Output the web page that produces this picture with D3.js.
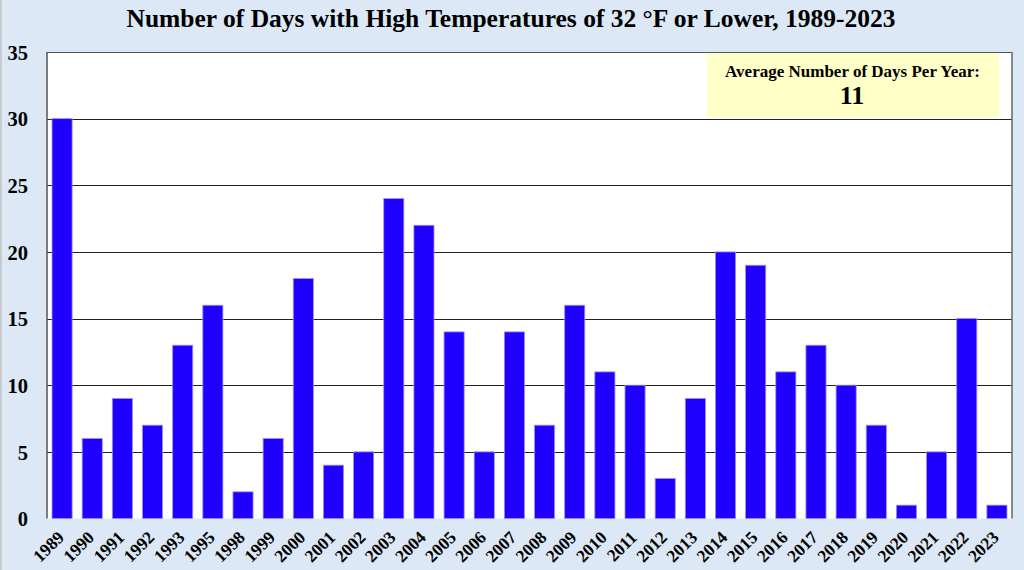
<!DOCTYPE html>
<html>
<head>
<meta charset="utf-8">
<script src="https://cdn.jsdelivr.net/npm/d3@7"></script>
<style>
  html, body { margin: 0; padding: 0; background: #dce8f5; }
  svg { display: block; }
  text { font-family: "Liberation Serif", "Times New Roman", serif; font-weight: bold; fill: #000; }
</style>
</head>
<body>
<svg id="chart" width="1024" height="570"></svg>
<script>
const years = ["1989","1990","1991","1992","1993","1995","1998","1999","2000","2001","2002","2003","2004","2005","2006","2007","2008","2009","2010","2011","2012","2013","2014","2015","2016","2017","2018","2019","2020","2021","2022","2023"];
const days = [30,6,9,7,13,16,2,6,18,4,5,24,22,14,5,14,7,16,11,10,3,9,20,19,11,13,10,7,1,5,15,1];
const yTicks = [0,5,10,15,20,25,30,35];
const title = "Number of Days with High Temperatures of 32 \u00B0F or Lower, 1989-2023";
const avgLabel = "Average Number of Days Per Year:";
const avgValue = "11";

const svg = d3.select("#chart");
const W = 1024, H = 570;
const m = {left: 47, right: 1012, top: 52, bottom: 518.5};

svg.append("rect").attr("x",0).attr("y",0).attr("width",W).attr("height",H).attr("fill","#dce8f5");
svg.append("rect").attr("x",0).attr("y",0).attr("width",2).attr("height",H).attr("fill","#c8ccd0");

const x = d3.scaleBand().domain(years).range([m.left, m.right]).paddingInner(1/3).paddingOuter(1/6);
const y = d3.scaleLinear().domain([0,35]).range([m.bottom, m.top]);

// plot area
svg.append("rect").attr("x", m.left).attr("y", m.top).attr("width", m.right - m.left).attr("height", m.bottom - m.top).attr("fill", "#fff");

// legend box
const bx0 = 707, bx1 = 999;
svg.append("rect").attr("x", bx0).attr("y", y(35) + 1.5).attr("width", bx1 - bx0).attr("height", y(30) - y(35) - 2.5).attr("fill", "#ffffc8");

// gridlines
svg.append("g").selectAll("line").data(yTicks.filter(d => d > 0)).join("line")
  .attr("x1", m.left).attr("x2", m.right)
  .attr("y1", d => Math.round(y(d)) + 0.5).attr("y2", d => Math.round(y(d)) + 0.5)
  .attr("stroke", d => d === 35 ? "#555" : "#222").attr("stroke-width", 1.2);

// borders
svg.append("line").attr("x1", m.right).attr("x2", m.right).attr("y1", m.top).attr("y2", m.bottom).attr("stroke", "#666").attr("stroke-width", 1.5);
svg.append("line").attr("x1", m.left).attr("x2", m.left).attr("y1", m.top).attr("y2", m.bottom).attr("stroke", "#555").attr("stroke-width", 1.5);

// bars
svg.append("g").selectAll("rect").data(years).join("rect")
  .attr("x", d => x(d)).attr("width", x.bandwidth())
  .attr("y", (d,i) => y(days[i])).attr("height", (d,i) => y(0) - y(days[i]))
  .attr("fill", "#1f00ff").attr("stroke", "#9c8cff").attr("stroke-width", 0.8);

// y axis labels
const yAxis = d3.axisLeft(y).tickValues(yTicks).tickSize(0).tickPadding(19).tickFormat(d3.format("d"));
const yg = svg.append("g").attr("transform", `translate(${m.left},0)`).call(yAxis);
yg.select(".domain").remove();
yg.selectAll("text").style("font-size", "20.5px").style("font-family", "Liberation Serif, serif").style("font-weight", "bold").attr("dy", "0.35em");

// x axis labels
const xAxis = d3.axisBottom(x).tickSize(0).tickPadding(0);
const xg = svg.append("g").attr("transform", `translate(0,${m.bottom})`).call(xAxis);
xg.select(".domain").remove();
xg.selectAll("text")
  .style("font-size", "17.5px").style("font-family", "Liberation Serif, serif").style("font-weight", "bold")
  .attr("text-anchor", "end").attr("dy", null).attr("y", 0)
  .attr("transform", "translate(3,20) rotate(-45)");

// title
svg.append("text").attr("x", 511).attr("y", 27).attr("text-anchor", "middle").style("font-size", "25.5px").text(title);

// legend text
svg.append("text").attr("x", (bx0 + bx1) / 2 - 0.5).attr("y", 77).attr("text-anchor", "middle").style("font-size", "17px").text(avgLabel);
svg.append("text").attr("x", (bx0 + bx1) / 2 - 1).attr("y", 104).attr("text-anchor", "middle").style("font-size", "26px").text(avgValue);
</script>
</body>
</html>
